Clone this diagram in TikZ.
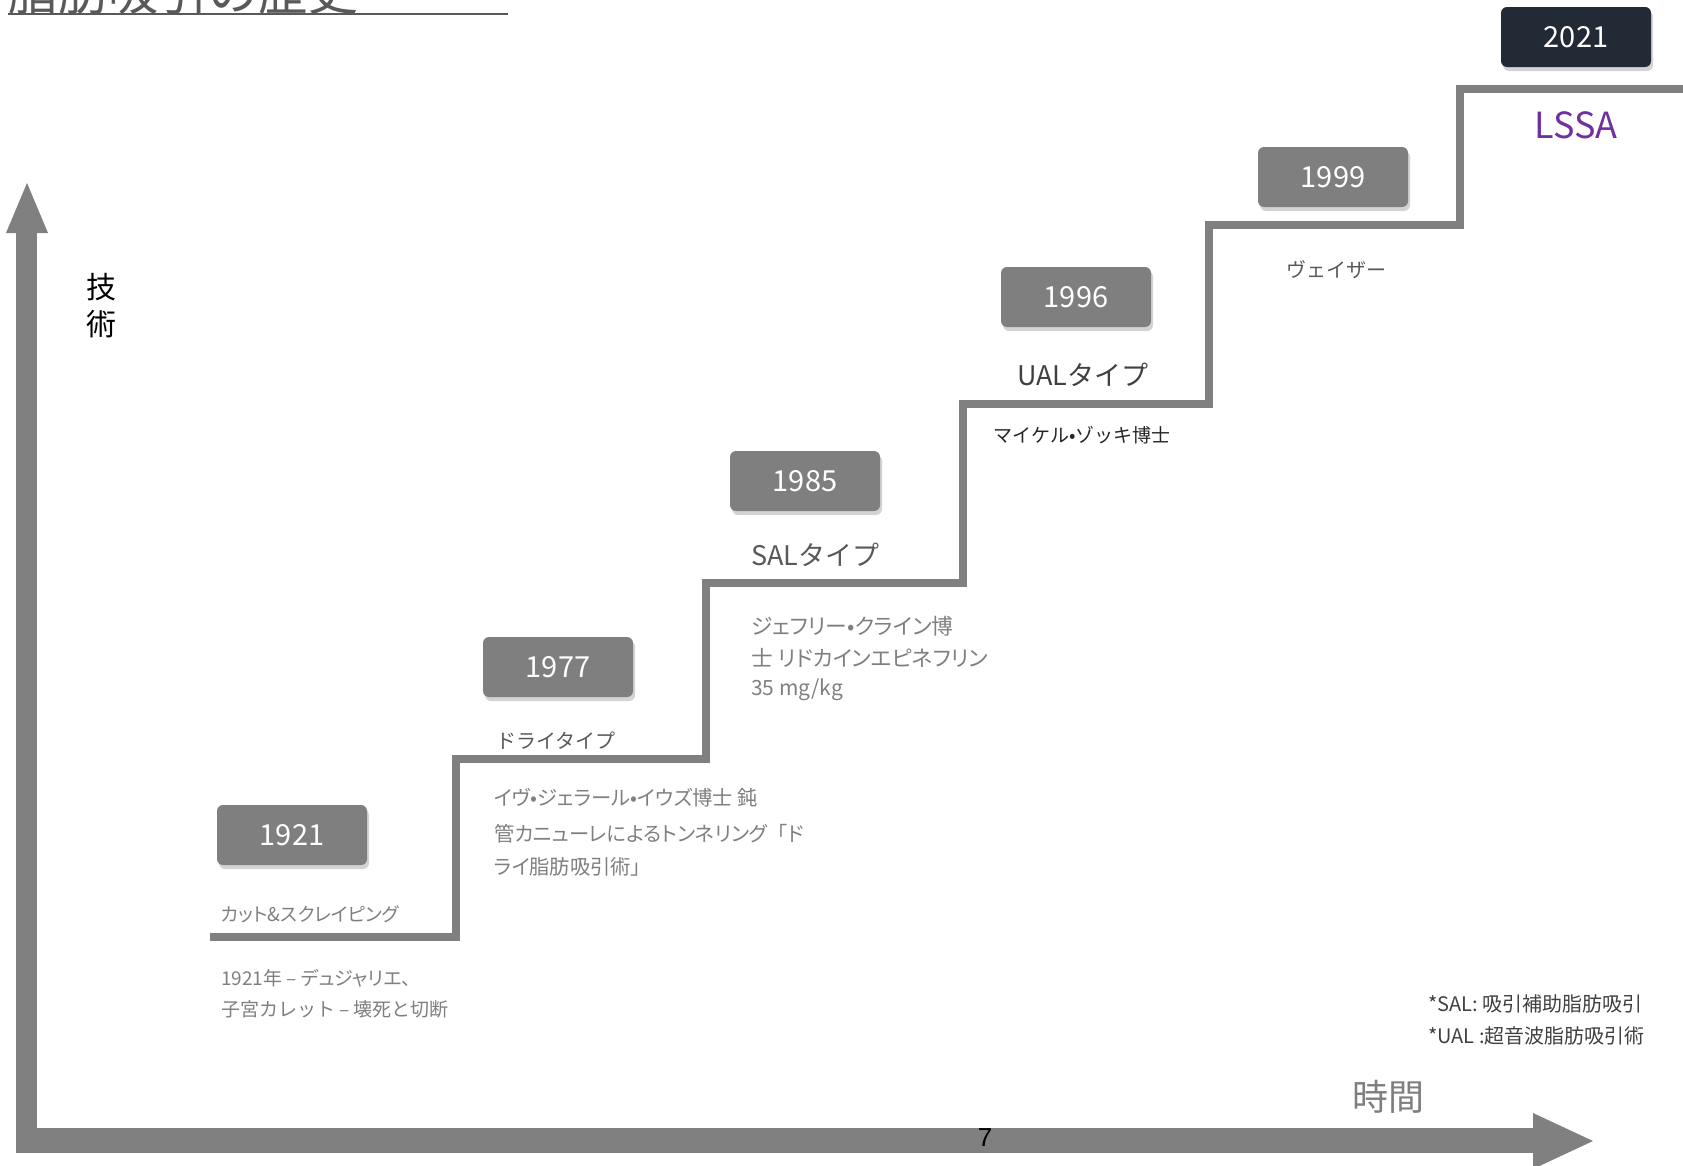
\documentclass[tikz,border=0pt]{standalone}
\usepackage{fontspec}
\setmainfont{Noto Sans CJK JP}
\newfontfamily\paltfont[RawFeature=+palt]{Noto Sans CJK JP}
\newfontfamily\arialfont{Liberation Sans}
\usetikzlibrary{shadows}
\definecolor{stepgray}{HTML}{808080}
\definecolor{boxgray}{HTML}{7F7F7F}
\definecolor{navybox}{HTML}{222A35}
\definecolor{txtgray}{HTML}{7F7F7F}
\definecolor{midgray}{HTML}{595959}
\definecolor{dkgray}{HTML}{404040}
\definecolor{nearblack}{HTML}{262626}
\definecolor{lssa}{HTML}{7030A0}
\tikzset{
  yearbox/.style={rounded corners=6pt, minimum width=150pt, minimum height=60pt,
    fill=boxgray, text=white, inner sep=0pt, font=\fontsize{29}{34}\selectfont,
    drop shadow={shadow xshift=2pt, shadow yshift=-4pt, opacity=0.35}},
  lbl/.style={anchor=west, inner sep=0pt},
  stairline/.style={draw=stepgray, line width=8pt},
  arrowfill/.style={fill=stepgray, draw=none}
}
\begin{document}
\begin{tikzpicture}[x=1pt,y=-1pt]
\useasboundingbox (0,0) rectangle (1683,1165);
\clip (0,0) rectangle (1683,1165);
% title (cut off at top)
\node[anchor=base west, inner sep=0pt, text=midgray, font=\fontsize{50}{56}\selectfont] (title) at (8,10) {脂肪吸引の歴史};
\coordinate (ulA) at (8,14);
\coordinate (ulB) at (508,14);
\draw[midgray, line width=2.2pt] (ulA) -- (ulB);
% axes
\fill[arrowfill] (16,233) rectangle (37,1153);
\fill[arrowfill] (6,233) -- (27,183) -- (48,233) -- cycle;
\fill[arrowfill] (16,1128) rectangle (1533,1153);
\fill[arrowfill] (1533,1113) -- (1593,1141) -- (1533,1169) -- cycle;
\node[inner sep=0pt, font=\fontsize{30}{34}\selectfont] (ax1) at (101,287) {技};
\node[inner sep=0pt, font=\fontsize{30}{34}\selectfont] (ax2) at (101,324) {術};
\node[inner sep=0pt, text=txtgray, font=\fontsize{36}{40}\selectfont] (time) at (1388,1097) {時間};
\node[inner sep=0pt, font=\arialfont\fontsize{26}{30}\selectfont] (pg) at (985,1138) {7};
% staircase
\coordinate (s0) at (210,937);
\coordinate (s1) at (456,937);
\coordinate (s2) at (456,759);
\coordinate (s3) at (706,759);
\coordinate (s4) at (706,583);
\coordinate (s5) at (963,583);
\coordinate (s6) at (963,404);
\coordinate (s7) at (1209,404);
\coordinate (s8) at (1209,225);
\coordinate (s9) at (1460,225);
\coordinate (s10) at (1460,89);
\coordinate (s11) at (1690,89);
\draw[stairline] (s0) -- (s1) -- (s2) -- (s3) -- (s4) -- (s5) -- (s6) -- (s7) -- (s8) -- (s9) -- (s10) -- (s11);
% year boxes
\node[yearbox] (y1921) at (292,835) {1921};
\node[yearbox] (y1977) at (558,667) {1977};
\node[yearbox] (y1985) at (805,481) {1985};
\node[yearbox] (y1996) at (1076,297) {1996};
\node[yearbox] (y1999) at (1333,177) {1999};
\node[yearbox, fill=navybox] (y2021) at (1576,37) {2021};
% labels
\node[lbl, text=txtgray, font=\paltfont\fontsize{18.8}{22}\selectfont] (l1) at (221,914) {カット\&スクレイピング};
\node[lbl, text=txtgray, font=\paltfont\fontsize{19}{23}\selectfont] (l1a) at (221,978) {1921年 – デュジャリエ、};
\node[lbl, text=txtgray, font=\fontsize{19}{23}\selectfont] (l1b) at (221,1009) {子宮カレット – 壊死と切断};
\node[lbl, text=midgray, font=\fontsize{20}{24}\selectfont] (l2) at (496,741) {ドライタイプ};
\node[lbl, text=txtgray, font=\paltfont\fontsize{20.3}{24}\selectfont] (l2a) at (494,798) {イヴ•ジェラール•イウズ博士 鈍};
\node[lbl, text=txtgray, font=\paltfont\fontsize{20.3}{24}\selectfont] (l2b) at (494,834) {管カニューレによるトンネリング\hspace{10pt}「ド};
\node[lbl, text=txtgray, font=\paltfont\fontsize{20.3}{24}\selectfont] (l2c) at (494,867) {ライ脂肪吸引術」};
\node[lbl, text=midgray, font=\fontsize{27}{31}\selectfont] (l3) at (751,555) {SALタイプ};
\node[lbl, text=txtgray, font=\paltfont\fontsize{21.7}{25}\selectfont] (l3a) at (751,626) {ジェフリー•クライン博};
\node[lbl, text=txtgray, font=\paltfont\fontsize{21.7}{25}\selectfont] (l3b) at (751,658) {士 リドカインエピネフリン};
\node[lbl, text=txtgray, font=\fontsize{21}{25}\selectfont] (l3c) at (751,690) {35 mg/kg};
\node[lbl, text=dkgray, font=\fontsize{27}{31}\selectfont] (l4) at (1017,375) {UALタイプ};
\node[lbl, text=nearblack, font=\fontsize{19}{23}\selectfont] (l4a) at (993,435) {マイケル•ゾッキ博士};
\node[lbl, text=midgray, font=\fontsize{20}{24}\selectfont] (l5) at (1286,270) {ヴェイザー};
\node[inner sep=0pt, text=lssa, font=\fontsize{36}{40}\selectfont] (l6) at (1576,125) {LSSA};
\node[lbl, text=dkgray, font=\fontsize{20}{24}\selectfont] (n1) at (1428,1004) {*SAL: 吸引補助脂肪吸引};
\node[lbl, text=dkgray, font=\fontsize{20}{24}\selectfont] (n2) at (1428,1036) {*UAL :超音波脂肪吸引術};
\end{tikzpicture}
\end{document}
